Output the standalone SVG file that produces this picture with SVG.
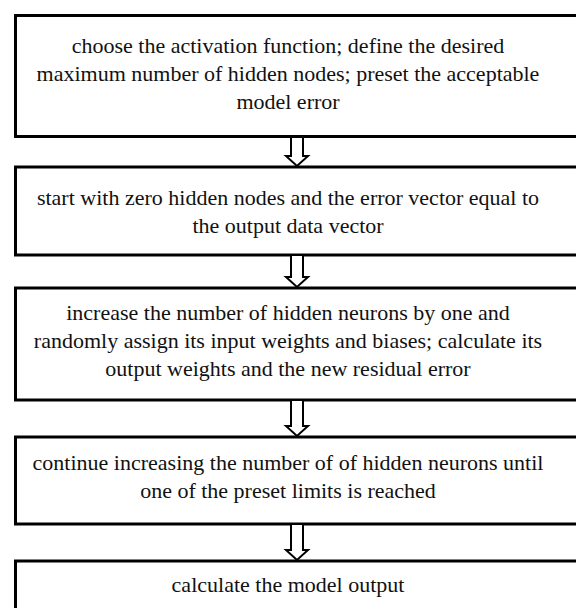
<svg xmlns="http://www.w3.org/2000/svg" width="576" height="608" viewBox="0 0 576 608">
<style>
.box{fill:#fff;stroke:#000;stroke-width:3}
.t{font-family:'Liberation Serif', 'Times New Roman', serif;font-size:22px;fill:#111;text-anchor:middle}
.arr{fill:#fff;stroke:#000;stroke-width:2;stroke-linejoin:miter}
</style>
<rect width="576" height="608" fill="#fff"/>
<g id="n1"><rect class="box" x="15.5" y="15.5" width="590" height="121"/>
<text class="t" x="288" y="53" font-family="Liberation Serif">choose the activation function; define the desired</text>
<text class="t" x="288" y="81" font-family="Liberation Serif">maximum number of hidden nodes; preset the acceptable</text>
<text class="t" x="288" y="109" font-family="Liberation Serif">model error</text></g>
<g id="n2"><rect class="box" x="15.5" y="167" width="590" height="88"/>
<text class="t" x="288" y="205" font-family="Liberation Serif">start with zero hidden nodes and the error vector equal to</text>
<text class="t" x="288" y="233" font-family="Liberation Serif">the output data vector</text></g>
<g id="n3"><rect class="box" x="15.5" y="288" width="590" height="112"/>
<text class="t" x="288" y="320" font-family="Liberation Serif">increase the number of hidden neurons by one and</text>
<text class="t" x="288" y="348" font-family="Liberation Serif">randomly assign its input weights and biases; calculate its</text>
<text class="t" x="288" y="376" font-family="Liberation Serif">output weights and the new residual error</text></g>
<g id="n4"><rect class="box" x="15.5" y="437" width="590" height="87"/>
<text class="t" x="288" y="470" font-family="Liberation Serif">continue increasing the number of of hidden neurons until</text>
<text class="t" x="288" y="498" font-family="Liberation Serif">one of the preset limits is reached</text></g>
<g id="n5"><rect class="box" x="15.5" y="561" width="590" height="80"/>
<text class="t" x="288" y="592" font-family="Liberation Serif">calculate the model output</text></g>
<g id="connectors">
<path class="arr" d="M291,138 V156 H286 L297,166 L308,156 H303 V138"/>
<path class="arr" d="M291,256 V277 H286 L297,287 L308,277 H303 V256"/>
<path class="arr" d="M291,401 V426 H286 L297,436 L308,426 H303 V401"/>
<path class="arr" d="M291,525 V550 H286 L297,560 L308,550 H303 V525"/>
</g>
</svg>
